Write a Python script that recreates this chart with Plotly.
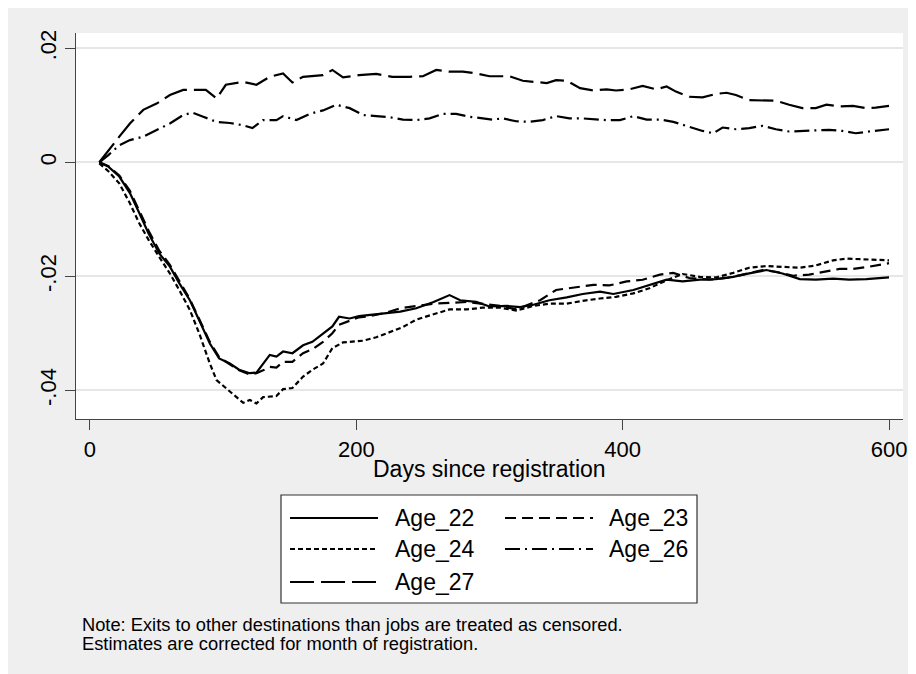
import plotly.graph_objects as go

# ---------------- data ----------------
days_22 = [7, 14, 22, 30, 37, 44, 52, 60, 67, 75, 82, 90, 97, 105, 112, 120, 125, 130, 135, 140,
           145, 152, 160, 167, 175, 182, 187, 195, 202, 210, 222, 233, 245, 258, 270, 278, 290, 300,
           313, 323, 333, 345, 358, 370, 383, 393, 408, 420, 433, 445, 458, 470, 483, 495, 508, 520,
           533, 545, 558, 570, 583, 600]
age_22 = [0, -0.0008, -0.0025, -0.0054, -0.0089, -0.0125, -0.0160, -0.0183, -0.0212, -0.0242,
          -0.0277, -0.0318, -0.0344, -0.0353, -0.0364, -0.0370, -0.0369, -0.0353, -0.0338, -0.0341,
          -0.0332, -0.0335, -0.0321, -0.0315, -0.0300, -0.0288, -0.0271, -0.0274, -0.0270, -0.0268,
          -0.0265, -0.0262, -0.0256, -0.0245, -0.0233, -0.0242, -0.0245, -0.0253, -0.0252, -0.0254,
          -0.0250, -0.0242, -0.0237, -0.0231, -0.0227, -0.0231, -0.0224, -0.0215, -0.0206, -0.0209,
          -0.0206, -0.0205, -0.0201, -0.0195, -0.0189, -0.0195, -0.0205, -0.0206, -0.0204, -0.0206,
          -0.0205, -0.0202]

days_23 = [7, 14, 22, 30, 37, 44, 52, 60, 67, 75, 82, 90, 97, 105, 112, 120, 125, 130, 135, 140,
           145, 152, 160, 167, 175, 182, 187, 195, 202, 210, 222, 233, 258, 283, 308, 320, 338, 350,
           363, 378, 390, 403, 415, 428, 438, 450, 465, 478, 490, 505, 515, 528, 540, 553, 563, 573,
           583, 600]
age_23 = [0, -0.0007, -0.0023, -0.0050, -0.0085, -0.0120, -0.0155, -0.0180, -0.0208, -0.0240,
          -0.0275, -0.0315, -0.0342, -0.0355, -0.0365, -0.0372, -0.0370, -0.0365, -0.0359, -0.0360,
          -0.0350, -0.0350, -0.0335, -0.0328, -0.0315, -0.0300, -0.0285, -0.0278, -0.0272, -0.0270,
          -0.0264, -0.0256, -0.0248, -0.0245, -0.0252, -0.0258, -0.0242, -0.0224, -0.0220, -0.0215,
          -0.0216, -0.0209, -0.0206, -0.0197, -0.0194, -0.0203, -0.0206, -0.0203, -0.0197, -0.0189,
          -0.0192, -0.0199, -0.0197, -0.0192, -0.0187, -0.0187, -0.0184, -0.0177]

days_24 = [7, 14, 22, 30, 37, 44, 52, 60, 67, 75, 82, 90, 95, 102, 110, 115, 120, 125, 130, 140,
           145, 152, 160, 167, 175, 182, 190, 197, 205, 215, 225, 235, 245, 258, 270, 283, 295, 308,
           320, 333, 345, 358, 370, 383, 395, 408, 420, 433, 445, 458, 470, 483, 495, 508, 520, 533,
           545, 558, 568, 583, 600]
age_24 = [-0.0002, -0.0016, -0.0037, -0.0072, -0.0107, -0.0136, -0.0166, -0.0195, -0.0224, -0.0259,
          -0.0300, -0.0353, -0.0382, -0.0396, -0.0411, -0.0422, -0.0417, -0.0423, -0.0412, -0.0410,
          -0.0398, -0.0396, -0.0376, -0.0364, -0.0353, -0.0326, -0.0316, -0.0315, -0.0313, -0.0307,
          -0.0298, -0.0289, -0.0276, -0.0266, -0.0258, -0.0258, -0.0255, -0.0255, -0.0260, -0.0252,
          -0.0248, -0.0248, -0.0243, -0.0239, -0.0236, -0.0230, -0.0221, -0.0207, -0.0196, -0.0201,
          -0.0202, -0.0194, -0.0185, -0.0182, -0.0183, -0.0185, -0.0181, -0.0172, -0.0169, -0.0171,
          -0.0172]

days_26 = [7, 14, 22, 30, 40, 50, 60, 70, 77, 85, 95, 105, 115, 122, 130, 140, 145, 155, 165, 175,
           185, 195, 205, 215, 225, 235, 245, 255, 265, 275, 285, 295, 302, 310, 320, 330, 340, 350,
           360, 370, 380, 388, 398, 408, 418, 428, 438, 450, 460, 468, 475, 485, 495, 505, 515, 525,
           535, 545, 555, 565, 575, 585, 600]
age_26 = [0, 0.0013, 0.0030, 0.0039, 0.0045, 0.0057, 0.0068, 0.0083, 0.0087, 0.0080, 0.0071, 0.0069,
          0.0065, 0.0060, 0.0074, 0.0074, 0.0081, 0.0074, 0.0085, 0.0091, 0.0101, 0.0095, 0.0083,
          0.0081, 0.0079, 0.0075, 0.0074, 0.0077, 0.0085, 0.0085, 0.0080, 0.0077, 0.0075, 0.0077,
          0.0072, 0.0071, 0.0074, 0.0081, 0.0077, 0.0077, 0.0075, 0.0074, 0.0074, 0.0081, 0.0075,
          0.0075, 0.0071, 0.0062, 0.0055, 0.0051, 0.0061, 0.0058, 0.0060, 0.0064, 0.0058, 0.0054,
          0.0055, 0.0055, 0.0057, 0.0055, 0.0051, 0.0054, 0.0058]

days_27 = [7, 14, 22, 30, 40, 50, 60, 70, 80, 87, 95, 102, 115, 125, 135, 145, 152, 160, 175, 182,
           190, 202, 215, 227, 240, 250, 260, 270, 280, 290, 300, 315, 325, 335, 343, 350, 358, 368,
           378, 388, 395, 405, 415, 425, 433, 440, 450, 460, 470, 478, 485, 495, 505, 515, 525, 535,
           545, 553, 563, 573, 583, 590, 600]
age_27 = [0, 0.0022, 0.0045, 0.0068, 0.0092, 0.0103, 0.0118, 0.0127, 0.0127, 0.0127, 0.0112, 0.0136,
          0.0141, 0.0136, 0.0150, 0.0156, 0.0140, 0.0150, 0.0153, 0.0162, 0.0149, 0.0153, 0.0155,
          0.0150, 0.0150, 0.0151, 0.0162, 0.0159, 0.0159, 0.0156, 0.0151, 0.0151, 0.0143, 0.0141,
          0.0139, 0.0144, 0.0143, 0.0130, 0.0126, 0.0128, 0.0126, 0.0128, 0.0134, 0.0128, 0.0133,
          0.0124, 0.0115, 0.0114, 0.0120, 0.0122, 0.0118, 0.0109, 0.0109, 0.0108, 0.0101, 0.0095,
          0.0095, 0.0101, 0.0098, 0.0099, 0.0095, 0.0096, 0.0099]

series_names = ["Age_22", "Age_23", "Age_24", "Age_26", "Age_27"]
x_ticks = [0, 200, 400, 600]
y_ticks = [0.02, 0, -0.02, -0.04]
y_ticktext = [".02", "0", "-.02", "-.04"]
x_title = "Days since registration"
note_lines = ["Note: Exits to other destinations than jobs are treated as censored.",
              "Estimates are corrected for month of registration."]

# ---------------- styling ----------------
W, H = 916, 674
OFF = 8                                  # page offset (body margin) of the figure
L, R, T, B = 76 - OFF, 903 - OFF, 33 - OFF, 419 - OFF   # plot area in figure pixels
FONT = "Liberation Sans, Arial, Helvetica, sans-serif"
dashes = ["solid", "11px,6px", "5px,3px", "15px,5px,2px,5px", "24px,7px"]
data = [(days_22, age_22), (days_23, age_23), (days_24, age_24), (days_26, age_26), (days_27, age_27)]


def px_x(p):
    """page x pixel -> paper coordinate"""
    return (p - OFF - L) / (R - L)


def px_y(p):
    """page y pixel -> paper coordinate"""
    return (B - (p - OFF)) / (B - T)


fig = go.Figure()
for name, (d, v), dash in zip(series_names, data, dashes):
    fig.add_trace(go.Scatter(x=d, y=v, mode="lines", name=name,
                             line=dict(color="black", width=2.2, dash=dash),
                             showlegend=False))

shapes = []
annotations = []

# legend box
shapes.append(dict(type="rect", xref="paper", yref="paper", x0=px_x(281), x1=px_x(697),
                   y0=px_y(603), y1=px_y(495), fillcolor="white",
                   line=dict(color="#333333", width=1.2)))
rows = [518, 518, 549, 549, 582]
cols = [(290, 378, 393), (505, 593, 607), (290, 378, 393), (505, 593, 607), (290, 378, 393)]
for name, dash, ry, (lx0, lx1, tx) in zip(series_names, dashes, rows, cols):
    shapes.append(dict(type="line", xref="paper", yref="paper", x0=px_x(lx0), x1=px_x(lx1),
                       y0=px_y(ry), y1=px_y(ry), line=dict(color="black", width=2, dash=dash)))
    annotations.append(dict(xref="paper", yref="paper", x=px_x(tx), y=px_y(ry), text=name,
                            showarrow=False, xanchor="left", yanchor="middle",
                            font=dict(size=23, color="black", family=FONT)))

# x axis title
annotations.append(dict(xref="paper", yref="paper", x=0.5, y=px_y(469), text=x_title,
                        showarrow=False, xanchor="center", yanchor="middle",
                        font=dict(size=23, color="black", family=FONT)))
# note
for i, ln in enumerate(note_lines):
    annotations.append(dict(xref="paper", yref="paper", x=px_x(80), y=px_y(624 + 19.5 * i), text=ln,
                            showarrow=False, xanchor="left", yanchor="middle",
                            font=dict(size=18.3, color="black", family=FONT)))

y_top = 0.02 + (48.3 - 33) / 5700
y_bot = -0.04 - (419 - 390.3) / 5700

fig.update_layout(
    width=W, height=H, autosize=False,
    margin=dict(l=L, r=W - R, t=T, b=H - B, pad=0),
    paper_bgcolor="#efefef", plot_bgcolor="white",
    font=dict(family=FONT, color="black"),
    shapes=shapes, annotations=annotations,
    xaxis=dict(range=[-10.5, 610.5], tickmode="array", tickvals=x_ticks,
               ticks="outside", ticklen=10, tickwidth=1.3, tickcolor="#444",
               showline=True, linecolor="#444", linewidth=1.3,
               showgrid=False, zeroline=False,
               tickfont=dict(size=22, color="black", family=FONT)),
    yaxis=dict(range=[y_bot, y_top], tickmode="array", tickvals=y_ticks, ticktext=y_ticktext,
               tickangle=-90, ticks="outside", ticklen=10, tickwidth=1.3, tickcolor="#444",
               showline=True, linecolor="#444", linewidth=1.3,
               showgrid=True, gridcolor="#e6e6e6", gridwidth=1.5, zeroline=False,
               tickfont=dict(size=22, color="black", family=FONT)),
)

fig.write_html("out.html")
